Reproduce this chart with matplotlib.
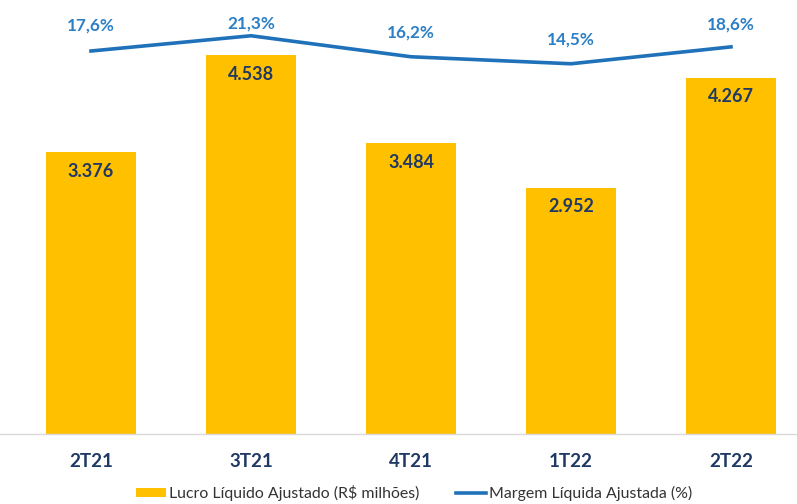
import matplotlib
matplotlib.use("Agg")
import matplotlib.pyplot as plt
from matplotlib.patches import Patch
from matplotlib.lines import Line2D

categories = ["2T21", "3T21", "4T21", "1T22", "2T22"]
lucro = [3376, 4538, 3484, 2952, 4267]
lucro_labels = ["3.376", "4.538", "3.484", "2.952", "4.267"]
margem = [17.6, 21.3, 16.2, 14.5, 18.6]
margem_labels = ["17,6%", "21,3%", "16,2%", "14,5%", "18,6%"]
# label offsets above line points (pixels)
margem_label_offsets_px = [25, 12, 24, 24, 22]

plt.rcParams['font.family'] = ['Lato', 'DejaVu Sans']

W, H = 797, 504
fig = plt.figure(figsize=(W/100, H/100), dpi=100)
base = 434
ax = fig.add_axes([0, (H-base)/H, 1, base/H])
x = list(range(len(categories)))
bar_color = "#FFC000"
navy = "#1F3864"
line_color = "#1F72BA"
lab_blue = "#2B7FC6"
px = 72/100

ax.bar(x, lucro, width=0.5625, color=bar_color, zorder=2)
ax.set_xlim(-91/160, (W-91)/160)
ax.set_ylim(0, base/0.0835)
for xi, v, lab in zip(x, lucro, lucro_labels):
    ax.annotate(lab, (xi, v), xytext=(0, -19*px), textcoords="offset points",
                ha="center", va="center", fontsize=13, fontweight="bold", color=navy)
for s in ["top", "right", "left"]:
    ax.spines[s].set_visible(False)
ax.spines["bottom"].set_color("#D9D9D9")
ax.spines["bottom"].set_linewidth(1.0)
ax.set_yticks([])
ax.set_xticks(x)
ax.set_xticklabels(categories, fontsize=13.5, fontweight="bold", color=navy)
ax.tick_params(axis="x", length=0, pad=14)

ax2 = ax.twinx()
ax2.set_position(ax.get_position())
k = 4.12
ax2.set_ylim(17.6 - (base-51)/k, 17.6 + 51/k)
ax2.plot(x, margem, color=line_color, lw=2.6, zorder=3)
for xi, v, lab, off in zip(x, margem, margem_labels, margem_label_offsets_px):
    ax2.annotate(lab, (xi, v), xytext=(0, off*px), textcoords="offset points",
                 ha="center", va="center", fontsize=12.3, fontweight="bold", color=lab_blue)
ax2.set_yticks([])
for s in ax2.spines.values():
    s.set_visible(False)

handles = [Patch(facecolor=bar_color, edgecolor="none"),
           Line2D([0], [0], color=line_color, lw=2.6)]
labels = ["Lucro Líquido Ajustado (R$ milhões)", "Margem Líquida Ajustada (%)"]
fig.legend(handles, labels, loc="center", bbox_to_anchor=(414/W, 1-493/H), ncol=2,
           frameon=False, fontsize=11.4, handlelength=1.9, handleheight=0.55,
           handletextpad=0.2, columnspacing=2.3, borderaxespad=0, labelcolor="#333333")

fig.savefig("out.png", dpi=100)
